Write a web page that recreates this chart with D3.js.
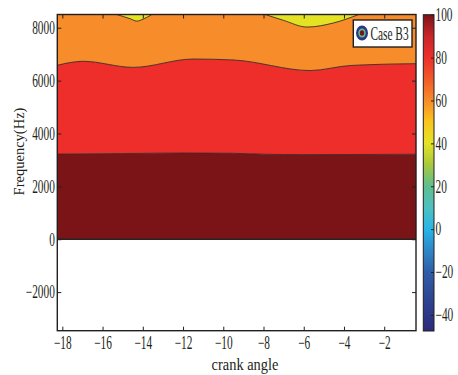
<!DOCTYPE html>
<html>
<head>
<meta charset="utf-8">
<script src="https://cdn.jsdelivr.net/npm/d3@7"></script>
<style>
  body { margin: 0; background: #fff; }
  svg { display: block; }
  text { font-family: 'Liberation Serif', 'Times New Roman', serif; fill: #231f20; }
</style>
</head>
<body>
<div id="app"></div>
<script>
// ---- data ----
const xTicks = [-18, -16, -14, -12, -10, -8, -6, -4, -2];
const yTicks = [-2000, 0, 2000, 4000, 6000, 8000];
const cbTicks = [-40, -20, 0, 20, 40, 60, 80, 100];

// colormap stops of the colour bar (value -> colour)
const cbValues = [-47.5, -35, -20, -10, 0, 10, 20, 30, 40, 50, 60, 70, 80, 90, 100];
const cbColors = ['#2c2a7b', '#2e3f8f', '#2f5ea8', '#2e86c6', '#27b5e8', '#4fc0c0', '#5ebf8f',
  '#a8c83d', '#e3e324', '#f9c51d', '#f68c2a', '#f05a28', '#ee2e2b', '#c9252a', '#7a1416'];

// contour boundaries [crank angle, frequency]
const lowBoundary = [[-18.25, 0], [-0.42, 0]];
const darkRedTop = [[-18.25, 3220], [-15, 3240], [-12, 3260], [-9.5, 3250], [-8, 3215],
  [-6, 3200], [-3, 3205], [-0.42, 3215]];
const redTop = [[-18.25, 6580], [-16.97, 6730], [-14.48, 6500], [-11.5, 6815], [-9.5, 6780],
  [-5.68, 6380], [-3.69, 6570], [-0.42, 6640]];
const yellowPocketA = [[-15.3, 8500], [-14.63, 8340], [-14.3, 8250], [-13.97, 8330], [-13.55, 8500]];
const yellowPocketB = [[-7.92, 8500], [-7.0, 8277], [-5.84, 8025], [-4.52, 8180], [-3.27, 8500]];
const levelDarkRed = 100;
const levelRed = 80;
const levelOrange = 60;
const levelYellow = 40;
const legendLabel = 'Case B3';

// ---- canvas ----
const W = 458, H = 375;
const plot = { left: 57.3, right: 416, top: 14.5, bottom: 330.7 };
const cb = { left: 423.3, right: 434, top: 14.7, bottom: 331 };
const squeezeX = 0.63;
const ink = '#231f20';

const svg = d3.select('#app').append('svg').attr('width', W).attr('height', H);
const defs = svg.append('defs');

// scales
const xScale = d3.scaleLinear().domain([-18.25, -0.42]).range([plot.left, plot.right]);
const yScale = d3.scaleLinear().domain([-3460, 8500]).range([plot.bottom, plot.top]);
const colorScale = d3.scaleLinear().domain(cbValues).range(cbColors);
const cbScale = d3.scaleLinear().domain([-47.5, 100]).range([cb.bottom, cb.top]);
const yTop = yScale.domain()[1];

defs.append('clipPath').attr('id', 'plot-clip')
  .append('rect')
  .attr('x', plot.left).attr('y', plot.top)
  .attr('width', plot.right - plot.left).attr('height', plot.bottom - plot.top);

const fills = svg.append('g').attr('clip-path', 'url(#plot-clip)');

const band = (lower, upper) => {
  // area between two boundary polylines sharing the same x extent
  const up = upper.map(p => [xScale(p[0]), yScale(p[1])]);
  const lo = lower.map(p => [xScale(p[0]), yScale(p[1])]).reverse();
  const line = d3.line().curve(d3.curveMonotoneX);
  return line(up) + 'L' + line(lo).slice(1) + 'Z';
};
const toTop = d3.area()
  .x(d => xScale(d[0]))
  .y0(yScale(yTop))
  .y1(d => yScale(d[1]))
  .curve(d3.curveMonotoneX);
const boundaryLine = d3.line()
  .x(d => xScale(d[0]))
  .y(d => yScale(d[1]))
  .curve(d3.curveMonotoneX);

// filled contour bands
fills.append('path').attr('d', toTop(redTop)).attr('fill', colorScale(levelOrange));
fills.append('path').attr('d', band(darkRedTop, redTop)).attr('fill', colorScale(levelRed));
fills.append('path').attr('d', band(lowBoundary, darkRedTop)).attr('fill', colorScale(levelDarkRed));
[yellowPocketA, yellowPocketB].forEach(p => {
  fills.append('path').attr('d', toTop(p)).attr('fill', colorScale(levelYellow));
});

// contour lines
[darkRedTop, redTop, yellowPocketA, yellowPocketB].forEach(p => {
  fills.append('path').attr('d', boundaryLine(p))
    .attr('fill', 'none').attr('stroke', '#3a2a26').attr('stroke-width', 0.9);
});
fills.append('path').attr('d', boundaryLine(lowBoundary))
  .attr('fill', 'none').attr('stroke', '#2a2222').attr('stroke-width', 1.6);

// squeeze text horizontally (the source figure is stretched vertically)
const squeeze = (sel, sx) => sel.each(function () {
  const t = d3.select(this);
  const x = +t.attr('x') || 0;
  t.attr('x', x / sx).attr('transform', `scale(${sx},1)`);
});

const styleAxis = (g) => {
  g.select('.domain').remove();
  g.selectAll('.tick line').attr('stroke', ink).attr('stroke-width', 1);
  g.selectAll('.tick text').attr('font-size', 18).attr('fill', ink)
    .attr('font-family', "'Liberation Serif', serif");
  squeeze(g.selectAll('.tick text'), squeezeX);
};

// axes (ticks pointing inward, MATLAB box)
svg.append('g').attr('transform', `translate(0,${plot.bottom})`)
  .call(d3.axisBottom(xScale).tickValues(xTicks).tickSize(-4).tickPadding(6).tickFormat(d3.format('d')))
  .call(styleAxis);
svg.append('g').attr('transform', `translate(0,${plot.top})`)
  .call(d3.axisTop(xScale).tickValues(xTicks).tickSize(-4).tickFormat(''))
  .call(styleAxis);
svg.append('g').attr('transform', `translate(${plot.left},0)`)
  .call(d3.axisLeft(yScale).tickValues(yTicks).tickSize(-4).tickPadding(2.5).tickFormat(d3.format('d')))
  .call(styleAxis);
svg.append('g').attr('transform', `translate(${plot.right},0)`)
  .call(d3.axisRight(yScale).tickValues(yTicks).tickSize(-4).tickFormat(''))
  .call(styleAxis);

svg.append('rect')
  .attr('x', plot.left).attr('y', plot.top)
  .attr('width', plot.right - plot.left).attr('height', plot.bottom - plot.top)
  .attr('fill', 'none').attr('stroke', ink).attr('stroke-width', 1.4);

// axis labels
svg.append('text')
  .attr('x', 245).attr('y', 370)
  .attr('text-anchor', 'middle')
  .attr('font-size', 16)
  .attr('transform', 'scale(0.9,1)')
  .attr('x', 245 / 0.9)
  .text('crank angle');

svg.append('text')
  .attr('transform', 'translate(23.5,151.5) rotate(-90)')
  .attr('text-anchor', 'middle')
  .attr('font-size', 14.5)
  .text('Frequency(Hz)');

// legend
const legend = svg.append('g');
legend.append('rect')
  .attr('x', 353.3).attr('y', 20).attr('width', 58.7).attr('height', 27)
  .attr('fill', '#fff').attr('stroke', ink).attr('stroke-width', 1.4);
legend.append('ellipse').attr('cx', 362).attr('cy', 33).attr('rx', 6).attr('ry', 7.5)
  .attr('fill', colorScale(-40));
legend.append('ellipse').attr('cx', 362).attr('cy', 33).attr('rx', 3.7).attr('ry', 4.6)
  .attr('fill', colorScale(20));
legend.append('ellipse').attr('cx', 362).attr('cy', 33).attr('rx', 2.2).attr('ry', 2.8)
  .attr('fill', colorScale(levelDarkRed));
legend.append('text')
  .attr('x', 370.5).attr('y', 40)
  .attr('font-size', 18)
  .text(legendLabel)
  .call(squeeze, squeezeX);

// colour bar
const grad = defs.append('linearGradient').attr('id', 'cb-grad')
  .attr('x1', 0).attr('y1', 1).attr('x2', 0).attr('y2', 0);
grad.selectAll('stop').data(cbValues).enter().append('stop')
  .attr('offset', d => (d - cbValues[0]) / (cbValues[cbValues.length - 1] - cbValues[0]))
  .attr('stop-color', (d, i) => cbColors[i]);

svg.append('rect')
  .attr('x', cb.left).attr('y', cb.top)
  .attr('width', cb.right - cb.left).attr('height', cb.bottom - cb.top)
  .attr('fill', 'url(#cb-grad)').attr('stroke', ink).attr('stroke-width', 1);

svg.append('g').attr('transform', `translate(${cb.right},0)`)
  .call(d3.axisRight(cbScale).tickValues(cbTicks).tickSize(-3).tickPadding(1.5).tickFormat(d3.format('d')))
  .call(styleAxis);
</script>
</body>
</html>
